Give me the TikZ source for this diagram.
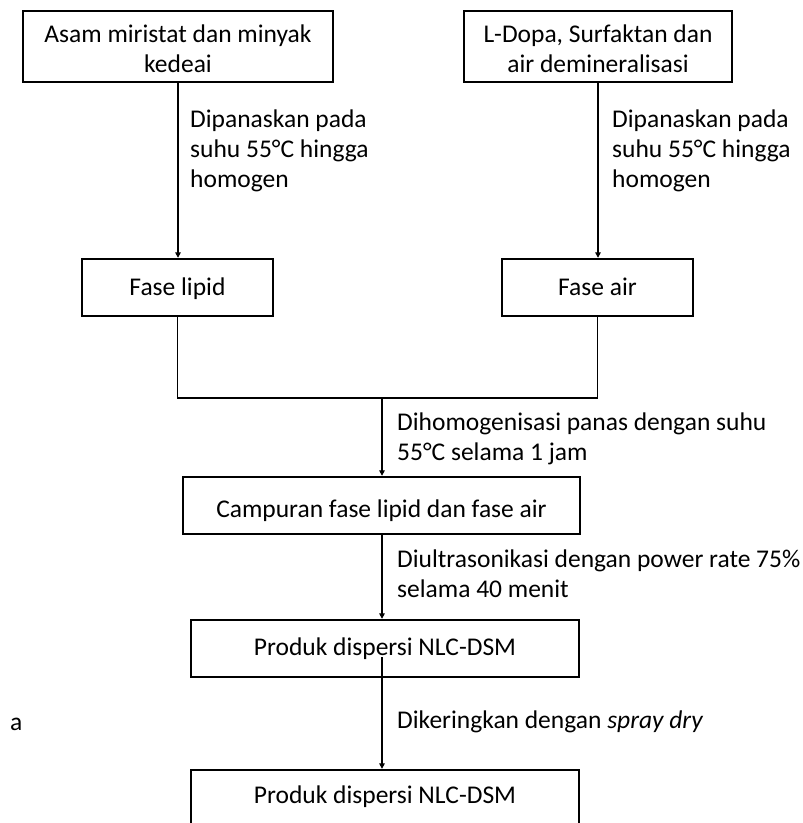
\documentclass[tikz,border=0pt]{standalone}
\usepackage{fontspec}
\setmainfont{Carlito}
\usetikzlibrary{arrows.meta}
\newcommand\dfsize{\fontsize{25.5}{30}\selectfont}
\begin{document}
\begin{tikzpicture}[x=1pt,y=-1pt,
  box/.style={draw,line width=2.4pt,inner sep=0pt},
  txt/.style={anchor=north,inner sep=0pt,align=center,font=\dfsize},
  lbl/.style={anchor=north west,inner sep=0pt,align=left,font=\dfsize},
  conn/.style={line width=1.3pt},
  arr/.style={conn,-{Triangle[length=5.5pt,width=5.5pt]}}]
\useasboundingbox (0,0) rectangle (803,823);
% boxes
\node[box,minimum width=310,minimum height=71] (b1) at (178,46.5) {};
\node[box,minimum width=268,minimum height=71] (b2) at (598,46.5) {};
\node[box,minimum width=191,minimum height=57] (lipid) at (177.5,287.5) {};
\node[box,minimum width=191,minimum height=57] (air) at (597.5,287.5) {};
\node[box,minimum width=397,minimum height=57] (camp) at (381.5,505.5) {};
\node[box,minimum width=388,minimum height=57] (p1) at (385,648.5) {};
\node[box,minimum width=388,minimum height=57] (p2) at (385,798.5) {};
% box texts (first baseline = y + 21)
\node[txt] (b1t) at (178,21) {\strut Asam miristat dan minyak\\kedeai};
\node[txt] (b2t) at (598,21) {\strut L-Dopa, Surfaktan dan\\air demineralisasi};
\node[txt] (lipidt) at (177.5,274) {\strut Fase lipid};
\node[txt] (airt) at (597.5,274) {\strut Fase air};
\node[txt] (campt) at (381.5,496) {\strut Campuran fase lipid dan fase air};
\node[txt] (p1t) at (385,634) {\strut Produk dispersi NLC-DSM};
\node[txt] (p2t) at (385,782) {\strut Produk dispersi NLC-DSM};
% connectors
\draw[arr] (b1.south) -- (b1.south |- lipid.north);
\draw[arr] (b2.south) -- (b2.south |- air.north);
\coordinate (j) at (382,398);
\draw[conn] (lipid.south) |- (j) -| (air.south);
\draw[arr] (j) -- (j |- camp.north);
\draw[arr] (j |- camp.south) -- (j |- p1.north);
\coordinate (s) at (382,657);
\draw[arr] (s) -- (s |- p2.north);
% step labels
\node[lbl] (t1) at (190,106) {\strut Dipanaskan pada\\suhu 55°C hingga\\homogen};
\node[lbl] (t2) at (612,106) {\strut Dipanaskan pada\\suhu 55°C hingga\\homogen};
\node[lbl] (t3) at (397,409) {\strut Dihomogenisasi panas dengan suhu\\55°C selama 1 jam};
\node[lbl] (t4) at (397,546) {\strut Diultrasonikasi dengan power rate 75\%\\selama 40 menit};
\node[lbl] (t5) at (397,707) {\strut Dikeringkan dengan \textit{spray dry}};
\node[lbl] (t6) at (10,709) {\strut a};
\end{tikzpicture}
\end{document}
